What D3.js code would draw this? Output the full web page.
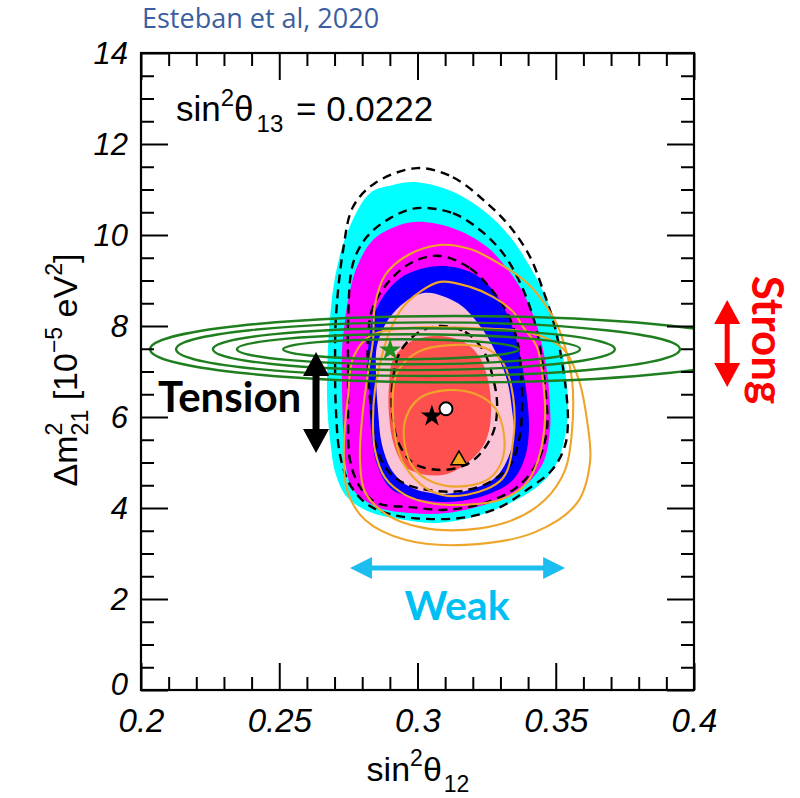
<!DOCTYPE html>
<html>
<head>
<meta charset="utf-8">
<script src="https://cdn.jsdelivr.net/npm/d3@7"></script>
<style>
  body { margin: 0; background: #fff; }
  svg { display: block; }
</style>
</head>
<body>
<svg id="chart" width="800" height="798"></svg>
<script>
// ---------------- data ----------------
const xDomain = [0.2, 0.4];
const yDomain = [0, 14];
const xTickValues = [0.2, 0.25, 0.3, 0.35, 0.4];
const xTickLabels = ["0.2", "0.25", "0.3", "0.35", "0.4"];
const yTickValues = [0, 2, 4, 6, 8, 10, 12, 14];
const yTickLabels = ["0", "2", "4", "6", "8", "10", "12", "14"];

// Global-fit allowed regions [sin^2 theta12, dm2_21 (1e-5 eV^2)], outermost first
const regionCyan = [[0.2998,11.16],[0.3128,10.95],[0.3251,10.48],[0.3335,9.96],[0.3407,9.30],[0.3468,8.57],[0.3505,7.91],[0.3534,7.03],[0.3544,6.15],[0.3526,5.38],[0.3490,4.84],[0.3432,4.46],[0.3335,4.11],[0.3201,3.80],[0.3071,3.67],[0.2948,3.74],[0.2828,3.91],[0.2745,4.24],[0.2705,4.73],[0.2684,5.49],[0.2673,6.37],[0.2676,7.47],[0.2684,8.20],[0.2702,9.08],[0.2745,10.04],[0.2828,10.92],[0.2911,11.10]];
const regionMagenta = [[0.2998,10.29],[0.3128,10.15],[0.3251,9.74],[0.3346,9.08],[0.3407,8.42],[0.3443,7.76],[0.3468,7.03],[0.3479,6.26],[0.3479,5.71],[0.3454,4.99],[0.3382,4.46],[0.3273,4.13],[0.3107,3.89],[0.2973,3.89],[0.2854,4.02],[0.2767,4.40],[0.2738,5.05],[0.2731,5.71],[0.2727,6.59],[0.2727,7.47],[0.2738,8.13],[0.2749,8.57],[0.2781,9.30],[0.2839,9.89],[0.2919,10.18]];
const regionBlue = [[0.3081,9.32],[0.3190,9.19],[0.3262,8.86],[0.3317,8.35],[0.3353,7.80],[0.3378,7.14],[0.3396,6.44],[0.3403,5.71],[0.3389,5.12],[0.3346,4.62],[0.3251,4.29],[0.3107,4.13],[0.2973,4.24],[0.2901,4.44],[0.2854,4.95],[0.2832,5.71],[0.2825,6.59],[0.2821,7.47],[0.2836,8.13],[0.2875,8.64],[0.2955,9.12]];
const regionPink = [[0.3027,8.73],[0.3100,8.64],[0.3165,8.42],[0.3237,7.91],[0.3288,7.36],[0.3324,6.81],[0.3342,6.15],[0.3349,5.60],[0.3324,5.05],[0.3280,4.66],[0.3190,4.40],[0.3081,4.31],[0.2973,4.46],[0.2911,4.79],[0.2872,5.38],[0.2857,6.15],[0.2850,6.92],[0.2854,7.58],[0.2893,8.13],[0.2955,8.53]];
const regionRed = [[0.3081,7.78],[0.3172,7.63],[0.3226,7.30],[0.3255,6.81],[0.3266,6.26],[0.3259,5.71],[0.3233,5.32],[0.3179,4.99],[0.3107,4.75],[0.3027,4.73],[0.2955,4.92],[0.2915,5.38],[0.2897,6.04],[0.2897,6.70],[0.2911,7.25],[0.2973,7.65]];

// Dashed confidence contours
const dashed1 = [[0.2998,11.47],[0.3128,11.27],[0.3251,10.70],[0.3335,10.18],[0.3407,9.52],[0.3454,8.79],[0.3490,8.13],[0.3515,7.47],[0.3537,6.59],[0.3544,5.93],[0.3534,5.38],[0.3487,4.84],[0.3396,4.40],[0.3299,4.02],[0.3179,3.80],[0.3034,3.76],[0.2911,3.85],[0.2821,4.07],[0.2756,4.51],[0.2720,5.16],[0.2705,6.15],[0.2702,7.25],[0.2705,8.20],[0.2731,9.67],[0.2767,10.62],[0.2846,11.14]];
const dashed2 = [[0.2998,10.59],[0.3128,10.48],[0.3226,10.11],[0.3309,9.60],[0.3371,8.95],[0.3418,8.20],[0.3443,7.54],[0.3461,6.70],[0.3468,5.71],[0.3432,4.99],[0.3360,4.46],[0.3251,4.13],[0.3107,3.96],[0.2973,4.02],[0.2854,4.11],[0.2792,4.46],[0.2756,5.05],[0.2749,5.93],[0.2749,7.03],[0.2749,8.13],[0.2767,9.38],[0.2817,9.96],[0.2901,10.37]];
const dashed3 = [[0.3081,9.54],[0.3190,9.27],[0.3262,8.84],[0.3324,8.29],[0.3360,7.69],[0.3375,6.92],[0.3378,6.15],[0.3367,5.49],[0.3335,4.95],[0.3262,4.57],[0.3154,4.37],[0.3034,4.40],[0.2955,4.53],[0.2890,4.84],[0.2850,5.38],[0.2832,6.15],[0.2821,7.03],[0.2821,7.76],[0.2839,8.42],[0.2901,9.01],[0.2984,9.41]];
const dashed4 = [[0.3081,8.00],[0.3172,7.87],[0.3237,7.47],[0.3273,6.86],[0.3288,6.26],[0.3273,5.65],[0.3215,5.12],[0.3154,4.90],[0.3071,4.84],[0.2984,4.99],[0.2930,5.45],[0.2908,6.15],[0.2911,6.81],[0.2937,7.43],[0.3002,7.85]];

// Solar contours (orange), innermost first
const solar1 = [[0.3107,6.59],[0.3208,6.51],[0.3280,6.20],[0.3313,5.60],[0.3306,5.05],[0.3262,4.66],[0.3172,4.48],[0.3063,4.55],[0.2991,4.84],[0.2955,5.34],[0.2958,5.98],[0.3009,6.42]];
const solar2 = [[0.3118,7.58],[0.3251,7.50],[0.3309,7.19],[0.3346,6.44],[0.3346,5.49],[0.3309,4.66],[0.3179,4.29],[0.3056,4.35],[0.2948,4.99],[0.2911,6.09],[0.2926,6.97],[0.3002,7.43]];
const solar3 = [[0.3081,8.97],[0.3190,8.86],[0.3273,8.64],[0.3346,8.31],[0.3382,7.98],[0.3432,7.54],[0.3454,6.81],[0.3461,5.93],[0.3436,5.05],[0.3389,4.51],[0.3299,4.18],[0.3172,4.07],[0.3045,4.11],[0.2955,4.29],[0.2883,4.66],[0.2846,5.27],[0.2839,5.93],[0.2846,6.59],[0.2872,7.36],[0.2901,7.91],[0.2948,8.42],[0.3009,8.75]];
const solar4 = [[0.3081,9.78],[0.3190,9.69],[0.3273,9.45],[0.3396,8.95],[0.3490,8.20],[0.3526,7.69],[0.3559,6.81],[0.3559,5.71],[0.3534,4.84],[0.3461,4.18],[0.3346,3.74],[0.3172,3.52],[0.3009,3.58],[0.2890,3.85],[0.2810,4.35],[0.2792,5.05],[0.2799,5.93],[0.2817,6.81],[0.2839,7.69],[0.2846,8.46],[0.2883,9.12],[0.2966,9.56]];
const solar5 = [[0.3172,7.96],[0.3407,7.85],[0.3523,7.52],[0.3581,6.86],[0.3613,5.93],[0.3624,5.01],[0.3577,4.11],[0.3425,3.47],[0.3172,3.19],[0.2955,3.30],[0.2810,3.74],[0.2745,4.40],[0.2734,5.38],[0.2749,6.48],[0.2767,7.30],[0.2828,7.78],[0.2973,7.96]];

// KamLAND contours (green): x range, centre in dm2, half-height in dm2
const kamXMin = [0.2514, 0.2347, 0.2260, 0.2127, 0.2033];
const kamXMax = [0.3367, 0.3588, 0.3714, 0.3949, 0.4239];
const kamCenter = [7.49, 7.49, 7.49, 7.49, 7.49];
const kamHalfHeight = [0.22, 0.33, 0.46, 0.59, 0.73];

// Best-fit points
const bestGlobal = [0.3103, 6.18];   // open circle
const bestSolar = [0.3150, 5.05];    // triangle
const bestKam = [0.2901, 7.47];      // green star
const bestOther = [0.3052, 6.02];    // black star

// Annotation arrow endpoints (data units)
const tensionArrow = [[0.2633, 7.43], [0.2633, 5.21]];
const weakArrow = [[0.2756, 2.68], [0.3534, 2.68]];
const strongArrow = [[0.4120, 8.57], [0.4120, 6.66]];

// ---------------- chart ----------------
const svg = d3.select("#chart");
const x = d3.scaleLinear().domain(xDomain).range([141, 694]);
const y = d3.scaleLinear().domain(yDomain).range([690, 53]);

const defs = svg.append("defs");
defs.append("clipPath").attr("id", "plotClip")
  .append("rect").attr("x", 141).attr("y", 53).attr("width", 553).attr("height", 637);

const plot = svg.append("g").attr("clip-path", "url(#plotClip)");
const closed = d3.line().curve(d3.curveCatmullRomClosed.alpha(0.5))
  .x(d => x(d[0])).y(d => y(d[1]));

// filled regions
[[regionCyan, "#00ffff"], [regionMagenta, "#ff00ff"], [regionBlue, "#0000ff"],
 [regionPink, "#fbc3d6"], [regionRed, "#ff5050"]].forEach(([pts, c]) => {
  plot.append("path").attr("d", closed(pts)).attr("fill", c).attr("stroke", "none");
});

// dashed contours
[dashed1, dashed2, dashed3, dashed4].forEach(pts => {
  plot.append("path").attr("d", closed(pts)).attr("fill", "none")
    .attr("stroke", "#000").attr("stroke-width", 2.4).attr("stroke-dasharray", "9,6");
});

// solar contours
[solar1, solar2, solar3, solar4, solar5].forEach(pts => {
  plot.append("path").attr("d", closed(pts)).attr("fill", "none")
    .attr("stroke", "#eea52a").attr("stroke-width", 2.1);
});

// KamLAND ellipses
kamXMin.forEach((x0, i) => {
  const x1 = kamXMax[i];
  plot.append("ellipse")
    .attr("cx", (x(x0) + x(x1)) / 2)
    .attr("cy", y(kamCenter[i]))
    .attr("rx", (x(x1) - x(x0)) / 2)
    .attr("ry", y(kamCenter[i] - kamHalfHeight[i]) - y(kamCenter[i]))
    .attr("fill", "none").attr("stroke", "#1f7f1f").attr("stroke-width", 2.4);
});

// best-fit markers
plot.append("path").attr("d", d3.symbol(d3.symbolStar, 150)())
  .attr("transform", `translate(${x(bestKam[0])},${y(bestKam[1])})`).attr("fill", "#1f8f1f");
plot.append("path").attr("d", d3.symbol(d3.symbolStar, 150)())
  .attr("transform", `translate(${x(bestOther[0])},${y(bestOther[1])})`).attr("fill", "#000");
plot.append("circle").attr("cx", x(bestGlobal[0])).attr("cy", y(bestGlobal[1])).attr("r", 6.5)
  .attr("fill", "#fff").attr("stroke", "#000").attr("stroke-width", 2);
plot.append("path").attr("d", d3.symbol(d3.symbolTriangle, 110)())
  .attr("transform", `translate(${x(bestSolar[0])},${y(bestSolar[1])})`)
  .attr("fill", "#f3a91c").attr("stroke", "#000").attr("stroke-width", 1.5);

// ---------------- axes ----------------
const axisFont = "'Liberation Sans', Arial, Helvetica, sans-serif";
const xMinor = d3.range(21).map(i => 0.2 + i * 0.01).filter((d, i) => i % 5 !== 0);
const yMinor = d3.range(29).map(i => i * 0.5).filter((d, i) => i % 4 !== 0);

function styleAxis(g) {
  g.select(".domain").remove();
  g.selectAll(".tick line").attr("stroke", "#000").attr("stroke-width", 2);
}
// bottom
svg.append("g").attr("transform", "translate(0,690)")
  .call(d3.axisBottom(x).tickValues(xMinor).tickSize(-13).tickFormat(""))
  .call(styleAxis);
const xAxisG = svg.append("g").attr("transform", "translate(0,690)")
  .call(d3.axisBottom(x).tickValues(xTickValues).tickSize(-27)
    .tickFormat((d, i) => xTickLabels[i]).tickPadding(0))
  .call(styleAxis);
xAxisG.selectAll("text").attr("y", 42).attr("dy", 0)
  .attr("font-family", axisFont).attr("font-style", "italic").attr("font-size", 33).attr("fill", "#000");
// top
svg.append("g").attr("transform", "translate(0,53)")
  .call(d3.axisTop(x).tickValues(xMinor).tickSize(-13).tickFormat("")).call(styleAxis);
svg.append("g").attr("transform", "translate(0,53)")
  .call(d3.axisTop(x).tickValues(xTickValues).tickSize(-27).tickFormat("")).call(styleAxis);
// left
svg.append("g").attr("transform", "translate(141,0)")
  .call(d3.axisLeft(y).tickValues(yMinor).tickSize(-13).tickFormat("")).call(styleAxis);
const yAxisG = svg.append("g").attr("transform", "translate(141,0)")
  .call(d3.axisLeft(y).tickValues(yTickValues).tickSize(-27)
    .tickFormat((d, i) => yTickLabels[i]).tickPadding(13))
  .call(styleAxis);
yAxisG.selectAll("text").attr("dy", (d, i) => i === 0 ? "0.16em" : "0.34em")
  .attr("font-family", axisFont).attr("font-style", "italic").attr("font-size", 31).attr("fill", "#000");
// right
svg.append("g").attr("transform", "translate(694,0)")
  .call(d3.axisRight(y).tickValues(yMinor).tickSize(-13).tickFormat("")).call(styleAxis);
svg.append("g").attr("transform", "translate(694,0)")
  .call(d3.axisRight(y).tickValues(yTickValues).tickSize(-27).tickFormat("")).call(styleAxis);

// frame
svg.append("rect").attr("x", 141).attr("y", 53).attr("width", 553).attr("height", 637)
  .attr("fill", "none").attr("stroke", "#000").attr("stroke-width", 2.2);

// ---------------- texts ----------------
svg.append("text").attr("x", 142).attr("y", 28)
  .attr("font-family", "'Open Sans', Lato, sans-serif").attr("font-size", 27)
  .attr("fill", "#3a5ea0").text("Esteban et al, 2020");

// theta13 label
const t13 = svg.append("text").attr("x", 176).attr("y", 121)
  .attr("font-family", axisFont).attr("font-size", 35).attr("fill", "#000");
t13.append("tspan").text("sin");
t13.append("tspan").attr("dy", -15).attr("font-size", 24).text("2");
t13.append("tspan").attr("dy", 15).text("θ");
t13.append("tspan").attr("dy", 11).attr("font-size", 24).attr("dx", 3).text("13");
t13.append("tspan").attr("dy", -11).attr("dx", 3).text(" = 0.0222");

// x title
const xt = svg.append("text").attr("x", 418).attr("y", 781).attr("text-anchor", "middle")
  .attr("font-family", axisFont).attr("font-size", 34).attr("fill", "#000");
xt.append("tspan").text("sin");
xt.append("tspan").attr("dy", -15).attr("font-size", 23).text("2");
xt.append("tspan").attr("dy", 15).text("θ");
xt.append("tspan").attr("dy", 11).attr("font-size", 23).attr("dx", 2).text("12");

// y title
const yt = svg.append("text").attr("transform", "translate(77,370) rotate(-90)")
  .attr("text-anchor", "middle")
  .attr("font-family", axisFont).attr("font-size", 34).attr("fill", "#000");
yt.append("tspan").text("Δm");
yt.append("tspan").attr("dy", -15).attr("font-size", 23).text("2");
yt.append("tspan").attr("dy", 26).attr("dx", -12.8).attr("font-size", 23).text("21");
yt.append("tspan").attr("dy", -11).text(" [10");
yt.append("tspan").attr("dy", -15).attr("font-size", 23).text("−5");
yt.append("tspan").attr("dy", 15).text(" eV");
yt.append("tspan").attr("dy", -15).attr("font-size", 23).text("2");
yt.append("tspan").attr("dy", 15).text("]");

// ---------------- annotations ----------------
function doubleArrow(p1, p2, sw, hw, hl) {
  const x1 = x(p1[0]), y1 = y(p1[1]), x2 = x(p2[0]), y2 = y(p2[1]);
  const L = Math.hypot(x2 - x1, y2 - y1);
  const ux = (x2 - x1) / L, uy = (y2 - y1) / L, nx = -uy, ny = ux;
  const P = (t, s) => [x1 + ux * t + nx * s, y1 + uy * t + ny * s];
  const pts = [P(0, 0), P(hl, hw / 2), P(hl, sw / 2), P(L - hl, sw / 2), P(L - hl, hw / 2),
    P(L, 0), P(L - hl, -hw / 2), P(L - hl, -sw / 2), P(hl, -sw / 2), P(hl, -hw / 2)];
  return "M" + pts.map(p => p.join(",")).join("L") + "Z";
}
const boldFont = "Lato, 'Open Sans', sans-serif";

svg.append("path").attr("d", doubleArrow(tensionArrow[0], tensionArrow[1], 7, 26, 24)).attr("fill", "#000");
svg.append("text").attr("x", 158).attr("y", 412)
  .attr("font-family", boldFont).attr("font-weight", 700).attr("font-size", 42)
  .attr("fill", "#000").text("Tension");

svg.append("path").attr("d", doubleArrow(weakArrow[0], weakArrow[1], 5, 22, 22)).attr("fill", "#1ebdf0");
svg.append("text").attr("x", 457).attr("y", 620).attr("text-anchor", "middle")
  .attr("font-family", boldFont).attr("font-weight", 700).attr("font-size", 41)
  .attr("fill", "#00bff3").text("Weak");

svg.append("path").attr("d", doubleArrow(strongArrow[0], strongArrow[1], 5, 26, 24)).attr("fill", "#ff0000");
svg.append("text").attr("transform", "translate(752,340) rotate(90)").attr("text-anchor", "middle")
  .attr("font-family", boldFont).attr("font-weight", 700).attr("font-size", 44)
  .attr("fill", "#ff0000").text("Strong");
</script>
</body>
</html>
